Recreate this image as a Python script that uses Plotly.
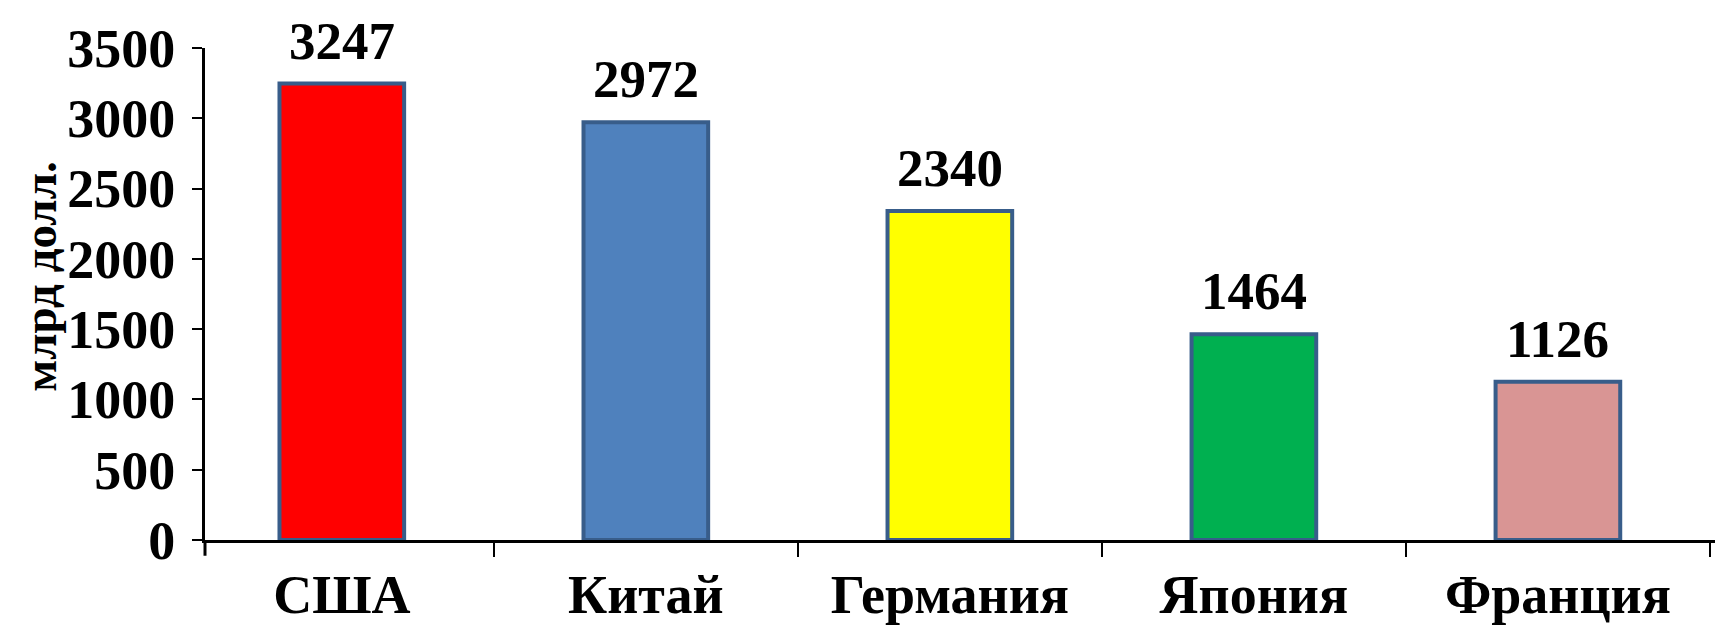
import plotly.graph_objects as go

countries = ["США", "Китай", "Германия", "Япония", "Франция"]
values = [3247, 2972, 2340, 1464, 1126]
colors = ["#FF0000", "#4F81BD", "#FFFF00", "#00B050", "#D99594"]
y_ticks = [0, 500, 1000, 1500, 2000, 2500, 3000, 3500]
y_title = "млрд долл."

FONT = "Liberation Serif"
L, R, T, B = 197, 15, 40, 95

fig = go.Figure(go.Bar(
    x=countries,
    y=values,
    marker=dict(color=colors, line=dict(color="#385D8A", width=4)),
    width=0.41,
    cliponaxis=False,
))

for c, v in zip(countries, values):
    fig.add_annotation(
        x=c, y=v, text=str(v), showarrow=False,
        yanchor="bottom", yshift=12,
        font=dict(family=FONT, size=53, color="black", weight="bold"),
    )

# y-axis title as rotated annotation
fig.add_annotation(
    xref="paper", yref="paper", x=0, y=0.535, xshift=-(L - 32),
    xanchor="center", yanchor="middle", textangle=-90,
    text=y_title, showarrow=False, borderpad=0,
    font=dict(family=FONT, size=47, color="black", weight="bold"),
)

# y-axis line continuing just below the x-axis
fig.add_shape(type="line", xref="paper", yref="paper", x0=0, x1=0, y0=0, y1=-0.032,
              line=dict(color="black", width=3))

fig.update_layout(
    width=1723, height=627,
    margin=dict(l=L, r=R, t=T, b=B),
    paper_bgcolor="white", plot_bgcolor="white",
    showlegend=False,
    font=dict(family=FONT, color="black"),
)
fig.update_xaxes(
    automargin=False,
    showline=True, linecolor="black", linewidth=3,
    ticks="outside", tickson="boundaries", ticklen=14, tickwidth=2, tickcolor="black",
    tickfont=dict(family=FONT, size=54, color="black", weight="bold"),
    ticklabelstandoff=5,
    range=[-0.45, 4.52],
)
fig.update_yaxes(
    automargin=False,
    range=[0, 3500], tickvals=y_ticks,
    showline=True, linecolor="black", linewidth=3,
    ticks="outside", ticklen=10, tickwidth=2, tickcolor="black",
    tickfont=dict(family=FONT, size=54, color="black", weight="bold"),
    ticklabelstandoff=6,
    showgrid=False, zeroline=False,
)

fig.write_html("out.html")
